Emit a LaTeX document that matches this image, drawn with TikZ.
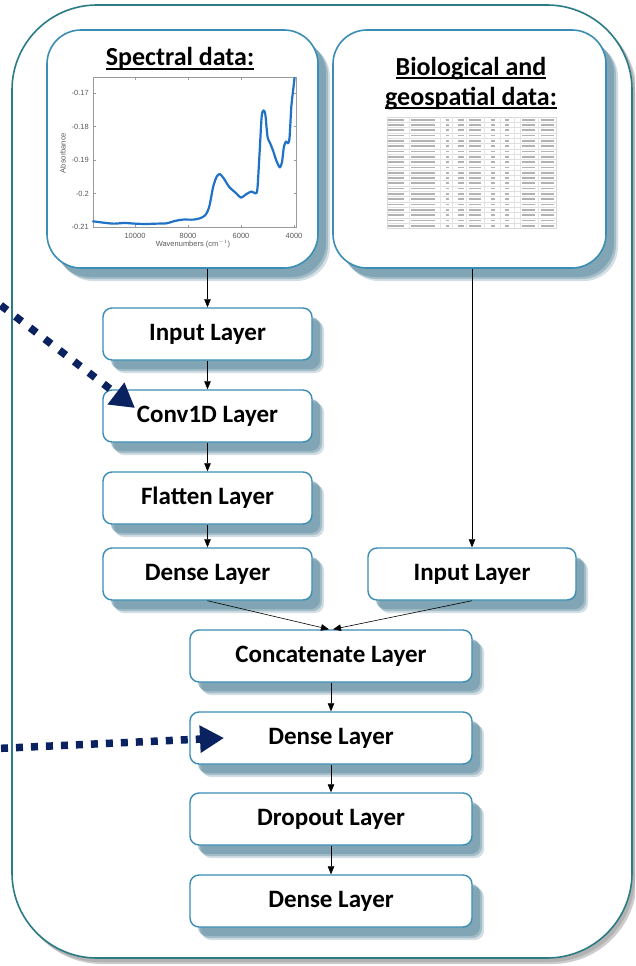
\documentclass[tikz,border=0pt]{standalone}
\usepackage{fontspec}
\setmainfont{Carlito}
\newfontfamily\plotfont{Liberation Sans}
\usetikzlibrary{shadows,arrows.meta,calc}
\definecolor{boxline}{HTML}{3A8DB5}
\definecolor{shadc}{HTML}{6B95A8}
\definecolor{framec}{HTML}{2B7B84}
\definecolor{navyc}{HTML}{0B2260}
\definecolor{curvec}{HTML}{1F72C6}
\definecolor{axisc}{HTML}{9A9A9A}
\definecolor{ticktext}{HTML}{5A5A5A}
\newcommand\ulbar[1]{\setbox0\hbox{#1}\rlap{\rule[-4pt]{\wd0}{1.8pt}}\box0}
\tikzset{
  shad/.style={
    drop shadow={shadow xshift=12pt, shadow yshift=-13pt, fill=shadc, opacity=0.3},
    drop shadow={shadow xshift=10pt, shadow yshift=-11pt, fill=shadc, opacity=0.45},
    drop shadow={shadow xshift=8pt, shadow yshift=-9pt, fill=shadc, opacity=0.6}},
  layer/.style={shad, draw=boxline, line width=1.4pt, fill=white, rounded corners=9pt,
    minimum height=52pt, inner sep=0pt, font=\fontsize{25}{28}\selectfont\bfseries},
  databox/.style={shad, draw=boxline, line width=1.6pt, fill=white, rounded corners=34pt, inner sep=0pt},
  titletext/.style={font=\fontsize{26}{29}\selectfont\bfseries, anchor=base, inner sep=0pt},
  conn/.style={draw=black, line width=0.6pt, -{Triangle[length=8pt,width=6.5pt]}},
  dotarrow/.style={draw=navyc, line width=7.5pt, -{Triangle[length=24pt,width=26pt]}},
  ticklab/.style={font=\plotfont\fontsize{7.5}{9}\selectfont, text=ticktext, inner sep=0pt}
}
\begin{document}
\begin{tikzpicture}[x=1pt,y=-1pt]
\useasboundingbox (0,0) rectangle (635,966);
\clip (0,0) rectangle (635,966);
\fill[white] (0,0) rectangle (635,966);
% outer frame shadow and frame
\fill[gray!40, rounded corners=85pt] (17,10) rectangle (637,964);
\fill[gray!60, rounded corners=85pt] (15,8) rectangle (635,962);
\draw[framec, line width=1.6pt, fill=white, rounded corners=85pt] (12,5) rectangle (632,958);

% data boxes
\node[databox, minimum width=271pt, minimum height=238pt] (spec) at (182.5,149) {};
\node[databox, minimum width=273pt, minimum height=238pt] (bio) at (469.5,149) {};
\node[titletext] (spectitle) at (180,66) {\ulbar{Spectral data:}};
\node[titletext] (biotitle1) at (471,75) {\ulbar{Biological and}};
\node[titletext] (biotitle2) at (471,105) {\ulbar{geospatial data:}};

% spectral plot
\draw[axisc, line width=0.5pt] (93,77) rectangle (296,227);
\foreach \xx/\lab in {135/10000,188/8000,241/6000,294/4000}{
  \draw[axisc, line width=0.4pt] (\xx,227) -- (\xx,224.5) (\xx,77) -- (\xx,79.5);
  \node[ticklab] at (\xx,235.5) {\lab};
}
\foreach \yy/\lab in {93/-0.17,126.5/-0.18,160/-0.19,193.5/-0.2,227/-0.21}{
  \draw[axisc, line width=0.4pt] (93,\yy) -- (95.5,\yy) (296,\yy) -- (293.5,\yy);
  \node[ticklab, anchor=east] at (89,\yy) {\lab};
}
\node[ticklab, rotate=90] at (63,153) {Absorbance};
\node[ticklab] at (193,244.5) {Wavenumbers (cm$^{-1}$)};
\begin{scope}[xshift=400pt, yshift=476.5pt, x={(-26.5pt,0pt)}, y={(0pt,3350pt)}]
\draw[curvec, line width=2.2pt, line join=round, line cap=round] plot[smooth, tension=0.45] coordinates {
(11.585,-0.2083) (11.2,-0.2087) (10.8,-0.2090) (10.4,-0.2088) (10.0,-0.2090) (9.6,-0.2091)
(9.2,-0.2090) (8.8,-0.2089) (8.5,-0.2082) (8.2,-0.2078) (7.8,-0.2078) (7.55,-0.2074)
(7.35,-0.2065) (7.2,-0.2040) (7.05,-0.1980) (6.92,-0.1950) (6.8,-0.1942) (6.65,-0.1955)
(6.45,-0.1980) (6.2,-0.1998) (6.0,-0.2012) (5.8,-0.2002) (5.6,-0.1994) (5.45,-0.2000)
(5.38,-0.1985) (5.3,-0.1880) (5.22,-0.1770) (5.15,-0.1752) (5.08,-0.1765) (5.0,-0.1830)
(4.9,-0.1850) (4.8,-0.1870) (4.65,-0.1905) (4.53,-0.1922) (4.45,-0.1905) (4.38,-0.1860)
(4.3,-0.1845) (4.23,-0.1850) (4.17,-0.1835) (4.1,-0.1740) (4.03,-0.1690) (3.98,-0.1655)};
\end{scope}

% table thumbnail
\draw[gray!30, line width=0.3pt] (387,117) rectangle (556,228);
\foreach \k in {1,...,20}{
  \draw[gray!25, line width=0.3pt] (387,{117+5.3*\k}) -- (556,{117+5.3*\k});
}
\foreach \xx in {409,440,452,466,484,500,514,520,538}{
  \draw[gray!20, line width=0.3pt] (\xx,117) -- (\xx,228);
}
\foreach \k in {0,...,20}{
  \foreach \xs/\len in {388/16,411/24,446/3,458/6,469/12,491/4,505/4,522/13,541/13}{
    \fill[gray!60] (\xs,{118.8+5.3*\k}) rectangle ({\xs+\len},{120.5+5.3*\k});
  }
}

% layer nodes
\node[layer, minimum width=209pt] (in1) at (207.5,334) {Input Layer};
\node[layer, minimum width=209pt] (conv) at (207.5,416) {Conv1D Layer};
\node[layer, minimum width=209pt] (flat) at (207.5,498) {Flatten Layer};
\node[layer, minimum width=209pt] (dl) at (207.5,574) {Dense Layer};
\node[layer, minimum width=208pt] (in2) at (472,574) {Input Layer};
\node[layer, minimum width=282pt] (cc) at (331,656) {Concatenate Layer};
\node[layer, minimum width=282pt] (d2) at (331,738) {Dense Layer};
\node[layer, minimum width=282pt] (drop) at (331,819) {Dropout Layer};
\node[layer, minimum width=282pt] (d3) at (331,901) {Dense Layer};

% connectors
\draw[conn] (spec.south -| in1.north) -- (in1.north);
\draw[conn] (in1.south) -- (conv.north);
\draw[conn] (conv.south) -- (flat.north);
\draw[conn] (flat.south) -- (dl.north);
\draw[conn] (bio.south -| in2.north) -- (in2.north);
\draw[conn] (dl.south) -- ($(cc.north)+(-2,0)$);
\draw[conn] (in2.south) -- ($(cc.north)+(2,0)$);
\draw[conn] (cc.south) -- (d2.north);
\draw[conn] (d2.south) -- (drop.north);
\draw[conn] (drop.south) -- (d3.north);

% dotted arrows
\coordinate (d1s) at (-14,294);
\coordinate (d1e) at (135,408);
\coordinate (d2s) at (-14,749);
\coordinate (d2e) at (224,738);
\draw[dotarrow, dash pattern=on 8pt off 10.5pt] (d1s) -- (d1e);
\draw[dotarrow, dash pattern=on 7pt off 8pt] (d2s) -- (d2e);
\end{tikzpicture}
\end{document}
